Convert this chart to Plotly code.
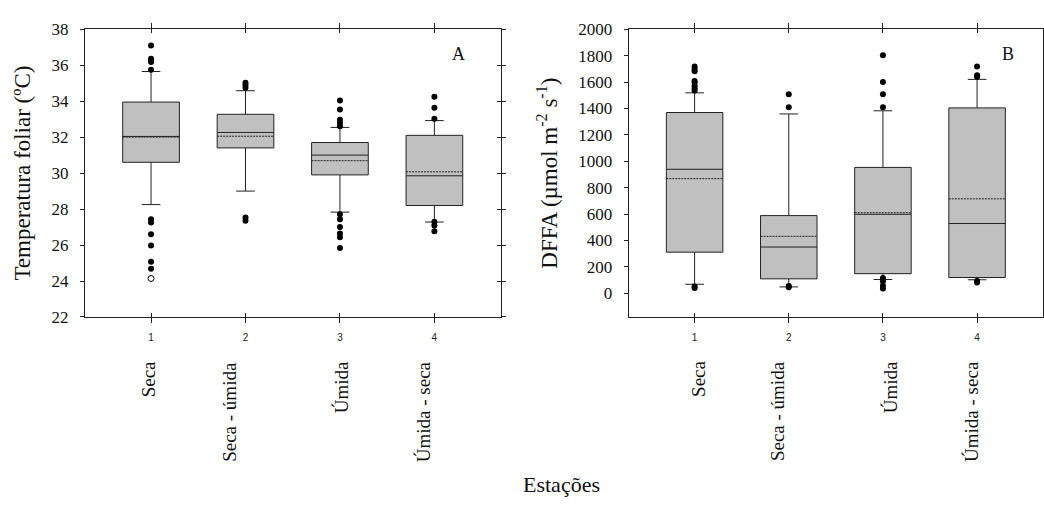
import plotly.graph_objects as go

# ---------------- data ----------------
positions = [1, 2, 3, 4]
tick_labels = ["1", "2", "3", "4"]
categories = ["Seca", "Seca - úmida", "Úmida", "Úmida - seca"]

# Panel A: leaf temperature (ºC)
temp_q1 = [30.6, 31.4, 29.9, 28.2]
temp_median = [32.04, 32.26, 31.0, 29.85]
temp_q3 = [33.95, 33.27, 31.7, 32.1]
temp_lowerfence = [28.25, 29.0, 27.83, 27.28]
temp_upperfence = [35.65, 34.58, 32.54, 32.92]
temp_mean = [32.0, 32.05, 30.69, 30.07]
temp_outliers = [
    [37.1, 36.36, 36.27, 36.18, 35.74, 27.44, 27.26, 26.6, 25.98, 25.07, 24.68],
    [35.02, 34.9, 34.75, 27.53, 27.35],
    [34.04, 33.54, 32.97, 32.8, 32.6, 27.71, 27.44, 27.0, 26.64, 26.43, 25.84],
    [34.25, 33.63, 33.02, 27.3, 27.09, 26.76],
]
temp_extreme = [[24.14], [], [], []]

# Panel B: DFFA (µmol m-2 s-1)
dffa_q1 = [311, 109, 148, 119]
dffa_median = [939, 350, 598, 528]
dffa_q3 = [1369, 588, 953, 1404]
dffa_lowerfence = [68, 48, 104, 102]
dffa_upperfence = [1518, 1358, 1382, 1620]
dffa_mean = [868, 431, 610, 715]
dffa_outliers = [
    [1717, 1698, 1681, 1608, 1596, 1572, 1552, 1535, 51, 39],
    [1508, 1409, 55, 45],
    [1803, 1601, 1508, 1409, 115, 90, 56, 36],
    [1717, 1652, 1640, 93, 82],
]

temp_ticks = [22, 24, 26, 28, 30, 32, 34, 36, 38]
dffa_ticks = [0, 200, 400, 600, 800, 1000, 1200, 1400, 1600, 1800, 2000]

# ---------------- styling ----------------
W, H = 1044, 506
SERIF = "Liberation Serif, Times New Roman, serif"
SANS = "Liberation Sans, Arial, sans-serif"
BOX_FILL = "#c0c0c0"
LINE = "#222222"
# horizontal pixel offsets of the rotated category labels (as in the original layout)
label_shift = {"x": [-3, -16, 1, -11], "x2": [4, -11, 7, -5]}


def px_x(p):
    return p / W


def px_y(p):
    return 1 - p / H


def flat(groups):
    xs, ys = [], []
    for pos, vals in zip(positions, groups):
        for v in vals:
            xs.append(pos)
            ys.append(v)
    return xs, ys


fig = go.Figure()

panels = [
    ("x", "y", temp_q1, temp_median, temp_q3, temp_lowerfence, temp_upperfence, temp_mean, temp_outliers),
    ("x2", "y2", dffa_q1, dffa_median, dffa_q3, dffa_lowerfence, dffa_upperfence, dffa_mean, dffa_outliers),
]
for xa, ya, q1, med, q3, lf, uf, mn, outl in panels:
    fig.add_trace(go.Box(
        x=positions, q1=q1, median=med, q3=q3, lowerfence=lf, upperfence=uf, mean=mn,
        boxmean=True, boxpoints=False, width=0.6, whiskerwidth=0.33,
        fillcolor=BOX_FILL, line=dict(color=LINE, width=1),
        xaxis=xa, yaxis=ya, showlegend=False, hoverinfo="skip",
    ))
    ox, oy = flat(outl)
    fig.add_trace(go.Scatter(
        x=ox, y=oy, mode="markers", xaxis=xa, yaxis=ya, showlegend=False,
        marker=dict(color="black", size=6, line=dict(width=0)), hoverinfo="skip",
    ))

ex, ey = flat(temp_extreme)
fig.add_trace(go.Scatter(
    x=ex, y=ey, mode="markers", xaxis="x", yaxis="y", showlegend=False,
    marker=dict(color="black", size=6, symbol="circle-open", line=dict(width=1)),
    hoverinfo="skip",
))

# invisible traces for overlay axes (inside ticks)
for xa, ya in [("x3", "y"), ("x4", "y2"), ("x", "y3")]:
    fig.add_trace(go.Scatter(x=[None], y=[None], xaxis=xa, yaxis=ya, showlegend=False,
                             hoverinfo="skip", mode="markers"))

dom1 = [px_x(85), px_x(501)]
dom2 = [px_x(629.3), 1.0]
ydom = [px_y(320), px_y(21)]
xr = [0.3, 4.7]

xcommon = dict(range=xr, tickvals=positions, ticktext=tick_labels, ticks="outside",
               ticklen=5, tickcolor=LINE, showline=True, linecolor=LINE, linewidth=1,
               mirror="ticks", showgrid=False, zeroline=False, ticklabelstandoff=6,
               tickfont=dict(family=SANS, size=10, color="#222"))
xinside = dict(range=xr, tickvals=positions, ticks="inside", ticklen=4, tickcolor=LINE,
               showticklabels=False, showline=False, mirror="ticks", showgrid=False,
               zeroline=False)
ytickfont = dict(family=SERIF, size=17, color="#111")
ytitlefont = dict(family=SERIF, size=23, color="#111")
fig.update_layout(
    width=W, height=H, margin=dict(l=0, r=0, t=0, b=0),
    plot_bgcolor="white", paper_bgcolor="white",
    xaxis=dict(domain=dom1, anchor="y", **xcommon),
    xaxis2=dict(domain=dom2, anchor="y2", **xcommon),
    xaxis3=dict(overlaying="x", anchor="y", **xinside),
    xaxis4=dict(overlaying="x2", anchor="y2", **xinside),
    yaxis=dict(domain=ydom, anchor="x", range=[22, 38], tickvals=temp_ticks,
               ticks="outside", ticklen=4, tickcolor=LINE, showline=True,
               linecolor=LINE, linewidth=1, mirror="ticks", showgrid=False,
               zeroline=False, ticklabelstandoff=8, tickfont=ytickfont,
               title=dict(text="Temperatura foliar (ºC)", standoff=14, font=ytitlefont)),
    yaxis3=dict(overlaying="y", anchor="x", side="right", range=[22, 38],
                tickvals=temp_ticks, ticks="inside", ticklen=4, tickcolor=LINE,
                showticklabels=False, showline=False, showgrid=False, zeroline=False),
    yaxis2=dict(domain=ydom, anchor="x2", range=[-180, 2000], tickvals=dffa_ticks,
                ticks="outside", ticklen=4, tickcolor=LINE, showline=True,
                linecolor=LINE, linewidth=1, mirror=True, showgrid=False,
                zeroline=False, ticklabelstandoff=8, tickfont=ytickfont,
                title=dict(text="DFFA (µmol m<sup>-2</sup> s<sup>-1</sup>)", standoff=14,
                           font=ytitlefont)),
)

annotations = []
for xa in ["x", "x2"]:
    for pos, lab, sh in zip(positions, categories, label_shift[xa]):
        annotations.append(dict(
            x=pos, y=px_y(364), xref=xa, yref="paper", text=lab, textangle=-90,
            showarrow=False, xanchor="center", yanchor="top", xshift=sh,
            font=dict(family=SERIF, size=19, color="#111"),
        ))
for txt, xp, yp, fs in [("A", 459, 47, 18), ("B", 1009, 47, 18), ("Estações", 562, 494, 22)]:
    annotations.append(dict(x=px_x(xp), y=px_y(yp), xref="paper", yref="paper", text=txt,
                            showarrow=False, xanchor="center", yanchor="middle",
                            font=dict(family=SERIF, size=fs, color="#111")))
fig.update_layout(annotations=annotations)

fig.write_html("out.html")
